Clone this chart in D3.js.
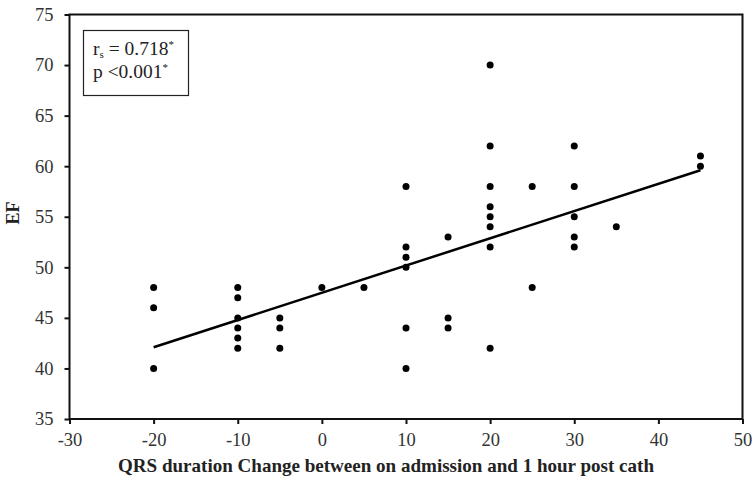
<!DOCTYPE html>
<html>
<head>
<meta charset="utf-8">
<script src="https://cdn.jsdelivr.net/npm/d3@7"></script>
<style>
  body { margin: 0; background: #fff; }
  svg { display: block; font-family: "Liberation Serif", "Times New Roman", serif; }
</style>
</head>
<body>
<div id="chart"></div>
<script>
// Scatter points
const qrsChange = [
  -20, -20, -20,
  -10, -10, -10, -10, -10, -10,
  -5, -5, -5,
  0, 5,
  10, 10, 10, 10, 10, 10,
  15, 15, 15,
  20, 20, 20, 20, 20, 20, 20, 20,
  25, 25,
  30, 30, 30, 30, 30,
  35,
  45, 45
]
const efValues = [
  48, 46, 40,
  48, 47, 45, 44, 43, 42,
  45, 44, 42,
  48, 48,
  58, 52, 51, 50, 44, 40,
  53, 45, 44,
  70, 62, 58, 56, 55, 54, 52, 42,
  58, 48,
  62, 58, 55, 53, 52,
  54,
  61, 60
]

// Fitted line endpoints
const fitX = [-20, 45]
const fitY = [42.1, 59.6]

const xTicks = [-30, -20, -10, 0, 10, 20, 30, 40, 50]
const yTicks = [35, 40, 45, 50, 55, 60, 65, 70, 75]

const width = 755
const height = 482
const margin = { left: 69.5, right: 12.5, top: 14.5, bottom: 63 }

const svg = d3.select("#chart").append("svg")
  .attr("width", width)
  .attr("height", height)

const x = d3.scaleLinear().domain([-30, 50]).range([margin.left, width - margin.right])
const y = d3.scaleLinear().domain([35, 75]).range([height - margin.bottom, margin.top])

// Frame
svg.append("rect")
  .attr("x", x(-30))
  .attr("y", y(75))
  .attr("width", x(50) - x(-30))
  .attr("height", y(35) - y(75))
  .attr("fill", "none")
  .attr("stroke", "#111")
  .attr("stroke-width", 2)

// Axes
const xAxis = svg.append("g")
  .attr("transform", `translate(0,${y(35)})`)
  .call(d3.axisBottom(x).tickValues(xTicks).tickFormat(d => String(d)).tickSize(5).tickPadding(9))
const yAxis = svg.append("g")
  .attr("transform", `translate(${x(-30)},0)`)
  .call(d3.axisLeft(y).tickValues(yTicks).tickFormat(d => String(d)).tickSize(5).tickPadding(11))

;[xAxis, yAxis].forEach(g => {
  g.select(".domain").remove()
  g.selectAll("line").attr("stroke", "#111").attr("stroke-width", 2)
  g.selectAll("text")
    .attr("fill", "#333")
    .attr("font-size", 18.5)
    .attr("font-family", "'Liberation Serif', serif")
})

// Axis titles
svg.append("text")
  .attr("x", 386)
  .attr("y", 472)
  .attr("text-anchor", "middle")
  .attr("font-size", 19)
  .attr("font-weight", "bold")
  .attr("fill", "#222")
  .attr("textLength", 536)
  .attr("lengthAdjust", "spacingAndGlyphs")
  .text("QRS duration Change between on admission and 1 hour post cath")

svg.append("text")
  .attr("transform", `translate(19,213) rotate(-90)`)
  .attr("text-anchor", "middle")
  .attr("font-size", 18)
  .attr("font-weight", "bold")
  .attr("fill", "#222")
  .text("EF")

// Regression line
svg.append("line")
  .attr("x1", x(fitX[0]))
  .attr("y1", y(fitY[0]))
  .attr("x2", x(fitX[1]))
  .attr("y2", y(fitY[1]))
  .attr("stroke", "#000")
  .attr("stroke-width", 2.5)

// Points
svg.append("g")
  .selectAll("circle")
  .data(qrsChange.map((q, i) => ({ q, ef: efValues[i] })))
  .enter().append("circle")
  .attr("cx", d => x(d.q))
  .attr("cy", d => y(d.ef))
  .attr("r", 3.5)
  .attr("fill", "#000")

// Stats box
svg.append("rect")
  .attr("x", 83.5)
  .attr("y", 30.5)
  .attr("width", 105)
  .attr("height", 65)
  .attr("fill", "#fff")
  .attr("stroke", "#222")
  .attr("stroke-width", 1.2)

const t1 = svg.append("text")
  .attr("x", 93)
  .attr("y", 55)
  .attr("font-size", 19.5)
  .attr("fill", "#222")
t1.append("tspan").text("r")
t1.append("tspan").attr("font-size", 11).attr("dy", 2.5).text("s")
t1.append("tspan").attr("dy", -2.5).text(" = 0.718")
t1.append("tspan").attr("font-size", 11).attr("dy", -7).text("*")

const t2 = svg.append("text")
  .attr("x", 93)
  .attr("y", 77.5)
  .attr("font-size", 19.5)
  .attr("fill", "#222")
t2.append("tspan").text("p <0.001")
t2.append("tspan").attr("font-size", 11).attr("dy", -7).text("*")
</script>
</body>
</html>
